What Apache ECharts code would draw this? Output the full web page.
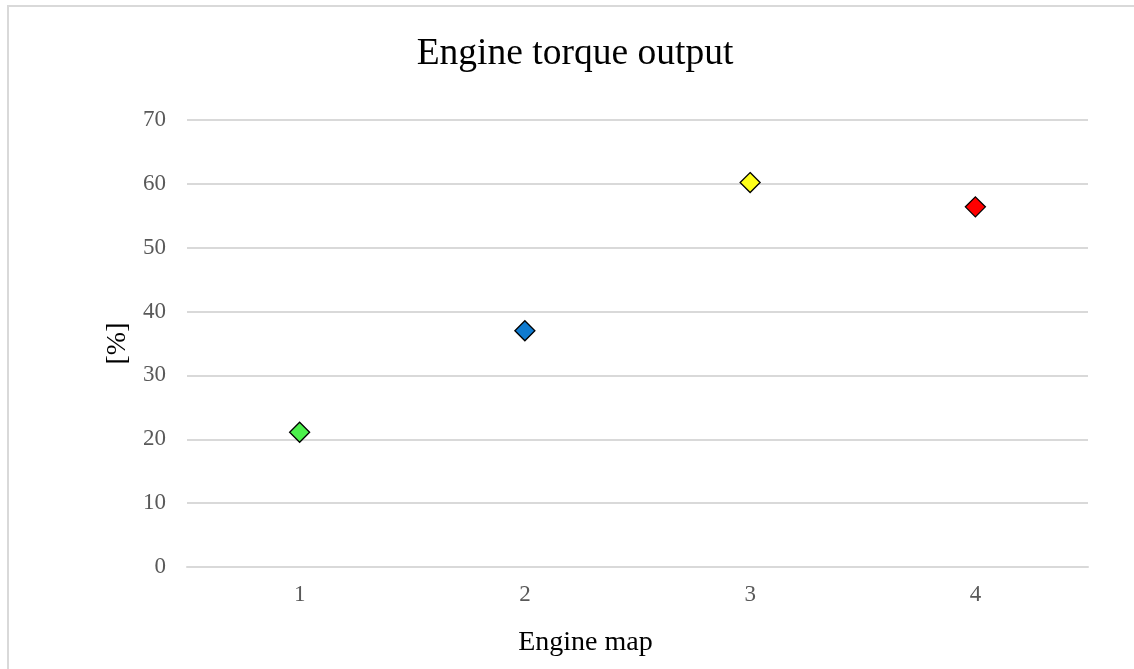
<!DOCTYPE html>
<html>
<head>
<meta charset="utf-8">
<script src="https://cdn.jsdelivr.net/npm/echarts@6/dist/echarts.min.js"></script>
<style>
html,body{margin:0;padding:0;background:#fff;overflow:hidden;}
#frame{position:absolute;left:7px;top:5px;width:1200px;height:700px;border:2px solid #d9d9d9;box-sizing:border-box;}
#chart{position:absolute;left:0;top:0;width:1134px;height:669px;}
</style>
</head>
<body>
<div id="frame"></div>
<div id="chart"></div>
<script>
const categories = ['1', '2', '3', '4'];
const values = [21.1, 37.0, 60.2, 56.4];
const colors = ['#4cf04c', '#0f7bd0', '#ffff1a', '#ff0000'];
const yTicks = [0, 10, 20, 30, 40, 50, 60, 70];

const chart = echarts.init(document.getElementById('chart'));
const font = '"Liberation Serif", "Times New Roman", serif';
chart.setOption({
  animation: false,
  title: {
    text: 'Engine torque output',
    left: 570,
    textAlign: 'center',
    top: 30,
    textStyle: {fontFamily: font, fontSize: 37.5, fontWeight: 'normal', color: '#000'}
  },
  grid: {left: 187, right: 46, top: 120, bottom: 102},
  xAxis: {
    type: 'category',
    data: categories,
    name: 'Engine map',
    nameLocation: 'middle',
    nameGap: 62,
    nameTextStyle: {fontFamily: font, fontSize: 28, color: '#000', padding: [0, 104, 0, 0]},
    axisLine: {lineStyle: {color: '#d9d9d9', width: 2}},
    axisTick: {show: false},
    axisLabel: {fontFamily: font, fontSize: 23, color: '#595959', margin: 16}
  },
  yAxis: {
    type: 'value',
    min: yTicks[0],
    max: yTicks[yTicks.length - 1],
    interval: 10,
    name: '[%]',
    nameLocation: 'middle',
    nameGap: 50,
    nameRotate: 90,
    nameTextStyle: {fontFamily: font, fontSize: 28, color: '#000'},
    axisLine: {show: false},
    axisTick: {show: false},
    splitLine: {lineStyle: {color: '#d9d9d9', width: 2}},
    axisLabel: {fontFamily: font, fontSize: 23, color: '#595959', margin: 21}
  },
  series: [{
    type: 'scatter',
    symbol: 'diamond',
    symbolSize: 20,
    data: values.map((v, i) => ({value: v, itemStyle: {color: colors[i]}})),
    itemStyle: {borderColor: '#000', borderWidth: 1.3, opacity: 1}
  }]
});
</script>
</body>
</html>
